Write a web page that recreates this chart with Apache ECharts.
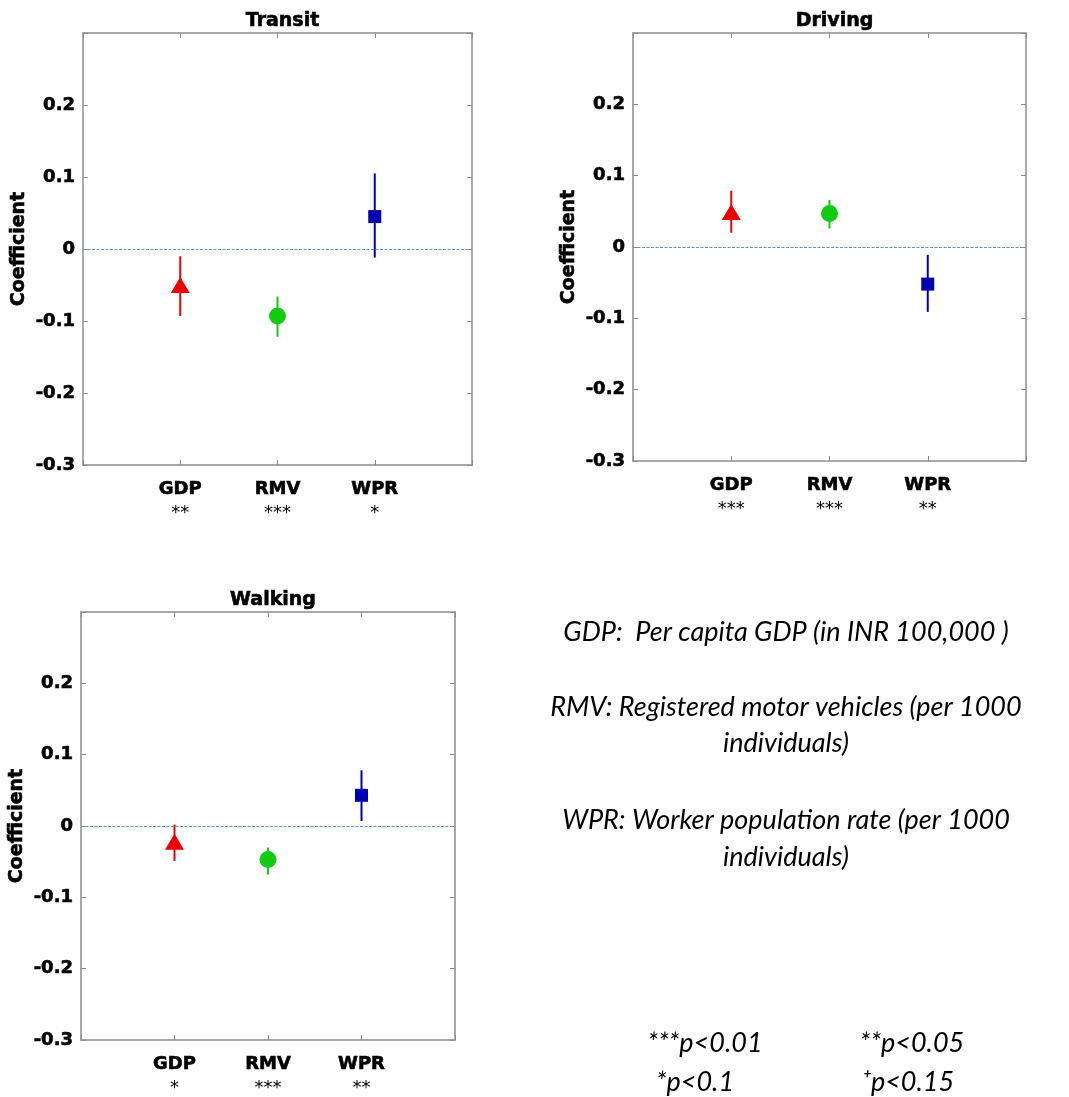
<!DOCTYPE html>
<html lang="en">
<head>
    <meta charset="utf-8">
    <title>Coefficient plots</title>
    <script src="https://cdn.jsdelivr.net/npm/echarts@6/dist/echarts.min.js"></script>
    <style>
        html, body { margin: 0; padding: 0; background: #fff; }
        #main { width: 1069px; height: 1097px; }
    </style>
</head>
<body>
<div id="main"></div>
<script>
    // variables, one position each on the x axis (1, 2, 3)
    var categories = ['GDP', 'RMV', 'WPR'];
    var catPos = [1, 2, 3];
    var yTicks = [-0.3, -0.2, -0.1, 0, 0.1, 0.2];

    // coefficient, lower end, upper end
    var transitCoef = [-0.050, -0.093, 0.045];
    var transitLow  = [-0.093, -0.122, -0.012];
    var transitHigh = [-0.010, -0.066, 0.105];
    var transitStars = ['**', '***', '*'];

    var drivingCoef = [0.049, 0.047, -0.052];
    var drivingLow  = [0.020, 0.026, -0.091];
    var drivingHigh = [0.079, 0.066, -0.011];
    var drivingStars = ['***', '***', '**'];

    var walkingCoef = [-0.022, -0.047, 0.043];
    var walkingLow  = [-0.049, -0.068, 0.007];
    var walkingHigh = [0.002, -0.030, 0.078];
    var walkingStars = ['*', '***', '**'];

    var markerShapes = ['triangle', 'circle', 'rect'];
    var markerSizes = [[19, 16], 17, 13];
    var markerColors = ['#ee0000', '#11cc11', '#0000b0'];

    var panels = [
        {title: 'Transit', coef: transitCoef, low: transitLow, high: transitHigh, stars: transitStars,
            grid: {left: 83, top: 33, width: 389, height: 432}},
        {title: 'Driving', coef: drivingCoef, low: drivingLow, high: drivingHigh, stars: drivingStars,
            grid: {left: 633, top: 33, width: 393, height: 428}},
        {title: 'Walking', coef: walkingCoef, low: walkingLow, high: walkingHigh, stars: walkingStars,
            grid: {left: 81, top: 612, width: 374, height: 435}}
    ];

    var boxColor = '#8c8c8c';
    var boldFont = 'DejaVu Sans';
    var heavy = {textBorderColor: '#000', textBorderWidth: 0.6};
    var chart = echarts.init(document.getElementById('main'));

    var option = {
        backgroundColor: '#fff',
        animation: false,
        title: [],
        grid: [],
        xAxis: [],
        yAxis: [],
        series: [],
        graphic: []
    };

    var boxLine = {show: true, onZero: false, lineStyle: {color: boxColor, width: 1.5}};
    var boxTick = {show: true, inside: true, length: 5, lineStyle: {color: boxColor}};

    panels.forEach(function (p, i) {
        option.grid.push(p.grid);
        option.title.push({
            text: p.title,
            left: p.grid.left + p.grid.width / 2,
            top: p.grid.top - 26,
            textAlign: 'center',
            textStyle: Object.assign({fontFamily: boldFont, fontWeight: 'bold', fontSize: 19, color: '#000'}, heavy)
        });

        var stars = p.stars;
        // bottom x axis with names and significance stars
        option.xAxis.push({
            type: 'value', gridIndex: i, min: 0, max: 4, interval: 1,
            axisLine: boxLine, axisTick: boxTick,
            splitLine: {show: false},
            axisLabel: {
                margin: 12,
                formatter: function (v) {
                    var k = catPos.indexOf(v);
                    if (k < 0) return '';
                    return '{n|' + categories[k] + '}\n{s|' + stars[k] + '}';
                },
                rich: {
                    n: Object.assign({fontFamily: boldFont, fontWeight: 'bold', fontSize: 18, color: '#000', lineHeight: 24}, heavy),
                    s: {fontFamily: boldFont, fontSize: 18, color: '#000', lineHeight: 24}
                }
            }
        });
        // top x axis closes the box
        option.xAxis.push({
            type: 'value', gridIndex: i, position: 'top', min: 0, max: 4, interval: 1,
            axisLine: boxLine, axisTick: boxTick,
            axisLabel: {show: false}, splitLine: {show: false}
        });
        option.yAxis.push({
            type: 'value', gridIndex: i, min: -0.3, max: 0.3, interval: 0.1,
            name: 'Coefficient', nameLocation: 'middle', nameGap: 54, nameRotate: 90,
            nameTextStyle: Object.assign({fontFamily: boldFont, fontWeight: 'bold', fontSize: 19, color: '#000'}, heavy),
            axisLine: boxLine, axisTick: boxTick,
            splitLine: {show: false},
            axisLabel: Object.assign({
                margin: 8,
                fontFamily: boldFont, fontWeight: 'bold', fontSize: 18, color: '#000',
                formatter: function (v) {
                    var r = Math.round(v * 10) / 10;
                    if (yTicks.indexOf(r) < 0) return '';
                    return r === 0 ? '0' : String(r);
                }
            }, heavy)
        });
        option.yAxis.push({
            type: 'value', gridIndex: i, position: 'right', min: -0.3, max: 0.3, interval: 0.1,
            axisLine: boxLine, axisTick: boxTick,
            axisLabel: {show: false}, splitLine: {show: false}
        });

        var xi = i * 2, yi = i * 2;

        // error bars
        option.series.push({
            type: 'custom', xAxisIndex: xi, yAxisIndex: yi,
            data: catPos.map(function (x, k) { return [x, p.low[k], p.high[k], k]; }),
            renderItem: function (params, api) {
                var a = api.coord([api.value(0), api.value(1)]);
                var b = api.coord([api.value(0), api.value(2)]);
                return {
                    type: 'line',
                    shape: {x1: a[0], y1: a[1], x2: b[0], y2: b[1]},
                    style: {stroke: markerColors[api.value(3)], lineWidth: 2}
                };
            },
            markLine: {
                silent: true, symbol: 'none', label: {show: false},
                lineStyle: {type: [3, 1.5], color: '#5f93c2', width: 1.2},
                data: [{yAxis: 0}]
            },
            z: 2
        });

        // coefficient markers
        catPos.forEach(function (x, k) {
            option.series.push({
                type: 'scatter', xAxisIndex: xi, yAxisIndex: yi,
                symbol: markerShapes[k], symbolSize: markerSizes[k],
                itemStyle: {color: markerColors[k], opacity: 1},
                data: [[x, p.coef[k]]],
                z: 3
            });
        });
    });

    // legend text on the right
    var noteFont = 'italic 27px Lato';
    var notes = [
        ['GDP:  Per capita GDP (in INR 100,000 )', 632],
        ['RMV: Registered motor vehicles (per 1000', 707],
        ['individuals)', 743],
        ['WPR: Worker population rate (per 1000', 820],
        ['individuals)', 857]
    ];
    notes.forEach(function (n) {
        option.graphic.push({
            type: 'text', x: 786, y: n[1],
            style: {text: n[0], font: noteFont, fill: '#000', align: 'center', verticalAlign: 'middle'}
        });
    });
    var pvals = [
        ['***p<0.01', 705, 1043],
        ['**p<0.05', 912, 1043],
        ['*p<0.1', 695, 1082],
        ['\u207Ap<0.15', 908, 1082]
    ];
    pvals.forEach(function (n) {
        option.graphic.push({
            type: 'text', x: n[1], y: n[2],
            style: {text: n[0], font: 'italic 27px Lato', fill: '#000', align: 'center', verticalAlign: 'middle'}
        });
    });

    chart.setOption(option);
</script>
</body>
</html>
